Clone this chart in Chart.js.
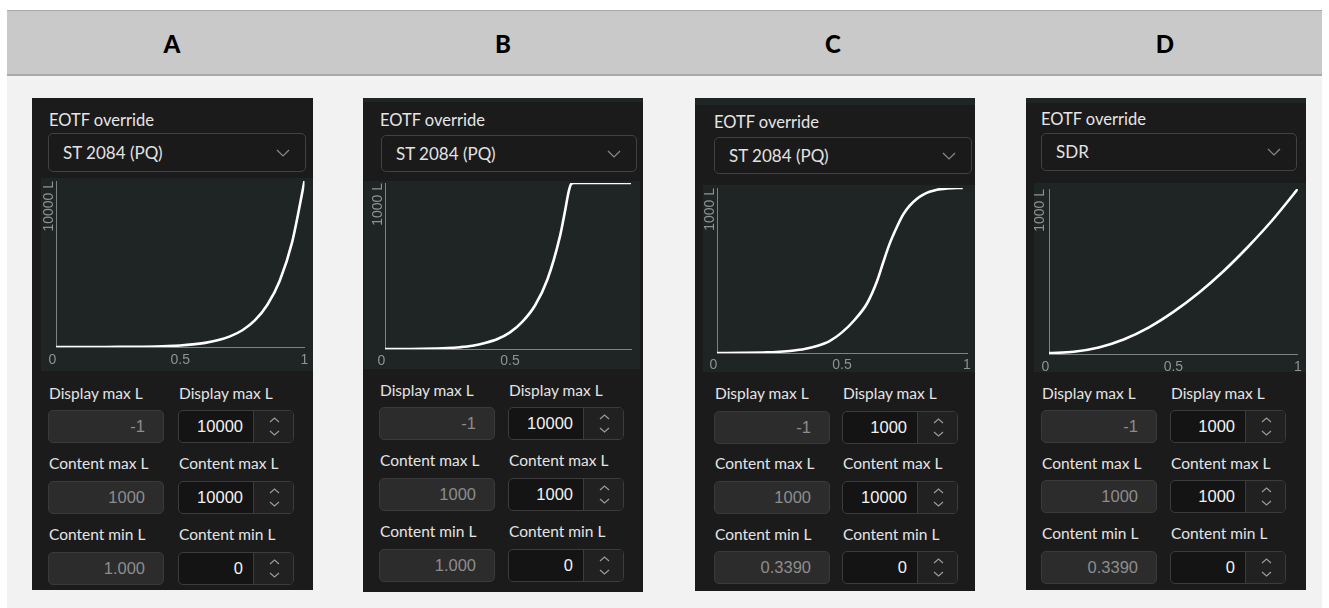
<!DOCTYPE html>
<html>
<head>
<meta charset="utf-8">
<script src="https://cdn.jsdelivr.net/npm/chart.js@4.4.1/dist/chart.umd.min.js"></script>
<style>
html, body { margin: 0; padding: 0; background: #fff; }
body { width: 1329px; height: 608px; position: relative; overflow: hidden; font-family: Lato, "Noto Sans", sans-serif; }
.abs { position: absolute; box-sizing: border-box; }
.fig { left: 7px; top: 10px; width: 1315px; height: 598px; background: #f2f2f2; }
.head { left: 7px; top: 10px; width: 1315px; height: 66px; background: #c9c9c9; border-top: 1px solid #a9a9a9; border-bottom: 2px solid #a9a9a9; }
.letter { font: 900 24px Lato, sans-serif; top: 11px; height: 64px; line-height: 66px; color: #000; transform: translateX(-50%); }
.panel { background: #1b1b1b; }
.strip { background: #1f2424; }
.ttl { color: #e6e6e6; font-size: 16.5px; height: 20px; line-height: 20px; white-space: nowrap; }
.dd { background: #1a1a1a; border: 1px solid #414141; border-radius: 5px; color: #e2e2e2; font-size: 17px; padding-left: 14px; white-space: nowrap; }
.chartbox { background: #1f2424; }
.lab { color: #e4e4e4; font-size: 15.5px; height: 20px; line-height: 20px; white-space: nowrap; }
.inL { font: 16.5px "Liberation Sans", Arial, sans-serif; background: #2c2c2c; border: 1px solid #3a3a3a; border-radius: 5px; color: #8c8c8c; text-align: right; padding-right: 18px; line-height: 31px; }
.inR { background: #141414; border: 1px solid #3c3c3c; border-radius: 5px; overflow: hidden; }
.inR .val { font: 16.5px "Liberation Sans", Arial, sans-serif; position: absolute; left: 0; top: 0; bottom: 0; width: 75px; text-align: right; padding-right: 11px; box-sizing: border-box; color: #f2f2f2; line-height: 31px; }
.inR .spin { position: absolute; left: 74px; top: 0; bottom: 0; right: 0; background: #212121; border-left: 1px solid #3c3c3c; }
svg { position: absolute; overflow: visible; }
</style>
</head>
<body>
<script>
const letters = ['A', 'B', 'C', 'D'];
const eotfNames = ['ST 2084 (PQ)', 'ST 2084 (PQ)', 'ST 2084 (PQ)', 'SDR'];
const rowLabels = ['Display max L', 'Content max L', 'Content min L'];
const displayMaxLeft = ['-1', '-1', '-1', '-1'];
const displayMaxRight = ['10000', '10000', '1000', '1000'];
const contentMaxLeft = ['1000', '1000', '1000', '1000'];
const contentMaxRight = ['10000', '1000', '10000', '1000'];
const contentMinLeft = ['1.000', '1.000', '0.3390', '0.3390'];
const contentMinRight = ['0', '0', '0', '0'];

const yMax = [10000, 1000, 1000, 1000];
const yLabels = ['10000 L', '1000 L', '1000 L', '1000 L'];
const xMax = [1, 0.984, 1, 1];
const xTickValues = [[0, 0.5, 1], [0, 0.5], [0, 0.5, 1], [0, 0.5, 1]];
const xTickLabels = [['0', '0.5', '1'], ['0', '0.5'], ['0', '0.5', '1'], ['0', '0.5', '1']];

// A: PQ, content 10000
const curveXA = [0, 0.05, 0.1, 0.15, 0.2, 0.25, 0.3, 0.35, 0.4, 0.45, 0.5, 0.55, 0.6, 0.65, 0.7, 0.75, 0.8, 0.85, 0.9, 0.95, 1];
const curveYA = [0, 0.1, 0.4, 1.1, 2.6, 5.3, 10.3, 19, 33, 56, 95, 156, 250, 400, 640, 1010, 1600, 2530, 3980, 6300, 10000];
// B: PQ, clipped at 1000
const curveXB = [0, 0.05, 0.1, 0.15, 0.2, 0.25, 0.3, 0.35, 0.4, 0.45, 0.5, 0.55, 0.6, 0.65, 0.7, 0.72, 0.735, 0.745, 0.755, 0.8, 0.9, 0.984];
const curveYB = [0, 0.1, 0.4, 1.1, 2.6, 5.3, 11, 20, 36, 60, 100, 165, 262, 420, 680, 830, 950, 995, 1000, 1000, 1000, 1000];
// C: PQ tone mapped 10000 -> 1000
const curveXC = [0, 0.1, 0.2, 0.25, 0.3, 0.35, 0.4, 0.45, 0.5, 0.55, 0.6, 0.64, 0.665, 0.69, 0.72, 0.745, 0.77, 0.8, 0.825, 0.85, 0.88, 0.92, 0.96, 0.983];
const curveYC = [0, 1, 4, 8, 14, 24, 42, 72, 125, 200, 300, 435, 550, 660, 765, 840, 892, 935, 960, 977, 990, 997, 1000, 1000];
// D: SDR
const curveXD = [0, 0.1, 0.2, 0.3, 0.4, 0.5, 0.6, 0.7, 0.8, 0.9, 1];
const curveYD = [5, 14, 40, 88, 160, 255, 368, 500, 650, 815, 1000];

const curveX = [curveXA, curveXB, curveXC, curveXD];
const curveY = [curveYA, curveYB, curveYC, curveYD];

// layout of each screenshot, page pixels
const panels = [
  { letterX: 172, box: [32, 98, 281, 492], strip: 0, titleX: 49, titleY: 120, dd: [48, 133, 258, 39],
    chart: [41, 178, 272, 193], axisX: 56, plotTop: 181, plotRight: 306, axisY: 347, yTitleX: 48, labelGap: 13,
    rowsY: [393, 463, 534], boxesY: [410, 481, 552], leftX: 48, rightX: 178 },
  { letterX: 503, box: [363, 98, 280, 494], strip: 4, titleX: 380, titleY: 120, dd: [381, 135, 256, 37],
    chart: [364, 181, 276, 188], axisX: 385, plotTop: 183, plotRight: 631, axisY: 349, yTitleX: 377, labelGap: 12,
    rowsY: [390, 460, 531], boxesY: [407, 478, 549], leftX: 379, rightX: 508 },
  { letterX: 833, box: [695, 98, 280, 493], strip: 7, titleX: 714, titleY: 122, dd: [714, 137, 258, 37],
    chart: [703, 185, 272, 187], axisX: 717, plotTop: 188, plotRight: 967, axisY: 353, yTitleX: 708.5, labelGap: 12,
    rowsY: [393, 463, 534], boxesY: [411, 481, 551], leftX: 714, rightX: 842 },
  { letterX: 1165, box: [1026, 98, 280, 492], strip: 5, titleX: 1041, titleY: 119, dd: [1041, 133, 256, 38],
    chart: [1034, 183, 272, 189], axisX: 1049, plotTop: 189, plotRight: 1298, axisY: 354, yTitleX: 1039, labelGap: 12.7,
    rowsY: [393, 463, 533], boxesY: [410, 480, 551], leftX: 1041, rightX: 1170 }
];

const axisColor = '#7c8181';
const tickColor = '#8e9292';
const monoFont = '"Liberation Sans", Arial, sans-serif';

function el(cls, x, y, w, h, text, parent) {
  const d = document.createElement('div');
  d.className = 'abs ' + cls;
  d.style.left = x + 'px';
  d.style.top = y + 'px';
  if (w != null) d.style.width = w + 'px';
  if (h != null) d.style.height = h + 'px';
  if (text != null) d.textContent = text;
  (parent || document.body).appendChild(d);
  return d;
}

function chevron(parent, cx, cy, w, h, up, color) {
  const ns = 'http://www.w3.org/2000/svg';
  const s = document.createElementNS(ns, 'svg');
  s.setAttribute('width', w);
  s.setAttribute('height', h);
  s.style.left = (cx - w / 2) + 'px';
  s.style.top = (cy - h / 2) + 'px';
  const p = document.createElementNS(ns, 'polyline');
  p.setAttribute('points', up ? `0,${h} ${w / 2},0 ${w},${h}` : `0,0 ${w / 2},${h} ${w},0`);
  p.setAttribute('fill', 'none');
  p.setAttribute('stroke', color);
  p.setAttribute('stroke-width', '1.2');
  s.appendChild(p);
  parent.appendChild(s);
}

el('fig', 7, 10);
el('head', 7, 10);

function makeChart(p, i) {
  const c = p.chart;
  const wrap = el('chartbox', c[0], c[1], c[2], c[3]);
  const cv = document.createElement('canvas');
  cv.width = c[2];
  cv.height = c[3];
  wrap.appendChild(cv);
  new Chart(cv, {
    type: 'line',
    data: {
      datasets: [{
        data: curveX[i].map((x, k) => ({ x: x, y: curveY[i][k] })),
        borderColor: '#ffffff',
        borderWidth: 2.6,
        pointRadius: 0,
        fill: false,
        cubicInterpolationMode: 'monotone'
      }]
    },
    options: {
      responsive: false,
      animation: false,
      devicePixelRatio: 1,
      layout: { padding: { left: 0, top: p.plotTop - c[1], right: c[0] + c[2] - p.plotRight, bottom: 0 } },
      plugins: { legend: { display: false }, tooltip: { enabled: false } },
      scales: {
        x: {
          type: 'linear', min: 0, max: xMax[i],
          grid: { display: false, drawTicks: false },
          border: { display: true, color: axisColor, width: 1 },
          afterBuildTicks: s => { s.ticks = xTickValues[i].map(v => ({ value: v })); },
          afterFit: s => { s.height = c[1] + c[3] - p.axisY; },
          ticks: {
            color: tickColor, autoSkip: false, maxRotation: 0,
            padding: p.labelGap - 8.4,
            font: { family: monoFont, size: 14, lineHeight: 1.2 },
            // the zero label sits a little left of its tick in the reference
            callback: (v, k) => k === 0 ? xTickLabels[i][k] + '\u2002' : xTickLabels[i][k]
          }
        },
        y: {
          type: 'linear', min: 0, max: yMax[i],
          grid: { display: false, drawTicks: false },
          border: { display: true, color: axisColor, width: 1 },
          ticks: { display: false },
          afterFit: s => { s.width = p.axisX - c[0]; },
          title: {
            display: true, text: yLabels[i], align: 'end', color: tickColor,
            font: { family: monoFont, size: 14, lineHeight: 1 },
            padding: { top: p.yTitleX - c[0] - 5.5, bottom: 0 }
          }
        }
      }
    }
  });
}

panels.forEach((p, i) => {
  el('letter', p.letterX, 11, null, null, letters[i]);
  el('panel', p.box[0], p.box[1], p.box[2], p.box[3]);
  if (p.strip) el('strip', p.box[0], p.box[1], p.box[2], p.strip);
  el('ttl', p.titleX, p.titleY - 10, null, null, 'EOTF override');
  const dd = el('dd', p.dd[0], p.dd[1], p.dd[2], p.dd[3], eotfNames[i]);
  dd.style.lineHeight = (p.dd[3] - 2) + 'px';
  chevron(dd, p.dd[2] - 24, p.dd[3] / 2 - 1, 12, 6, false, '#8a8a8a');
  makeChart(p, i);

  const lefts = [displayMaxLeft[i], contentMaxLeft[i], contentMinLeft[i]];
  const rights = [displayMaxRight[i], contentMaxRight[i], contentMinRight[i]];
  for (let r = 0; r < 3; r++) {
    el('lab', p.leftX + 1, p.rowsY[r] - 10, null, null, rowLabels[r]);
    el('lab', p.rightX + 1, p.rowsY[r] - 10, null, null, rowLabels[r]);
    el('inL', p.leftX, p.boxesY[r], 116, 33, lefts[r]);
    const br = el('inR', p.rightX, p.boxesY[r], 116, 33);
    const v = document.createElement('div');
    v.className = 'val';
    v.textContent = rights[r];
    br.appendChild(v);
    const sp = document.createElement('div');
    sp.className = 'spin';
    br.appendChild(sp);
    chevron(sp, 20, 9, 9, 4, true, '#9a9a9a');
    chevron(sp, 20, 22, 9, 4, false, '#9a9a9a');
  }
});
</script>
</body>
</html>
